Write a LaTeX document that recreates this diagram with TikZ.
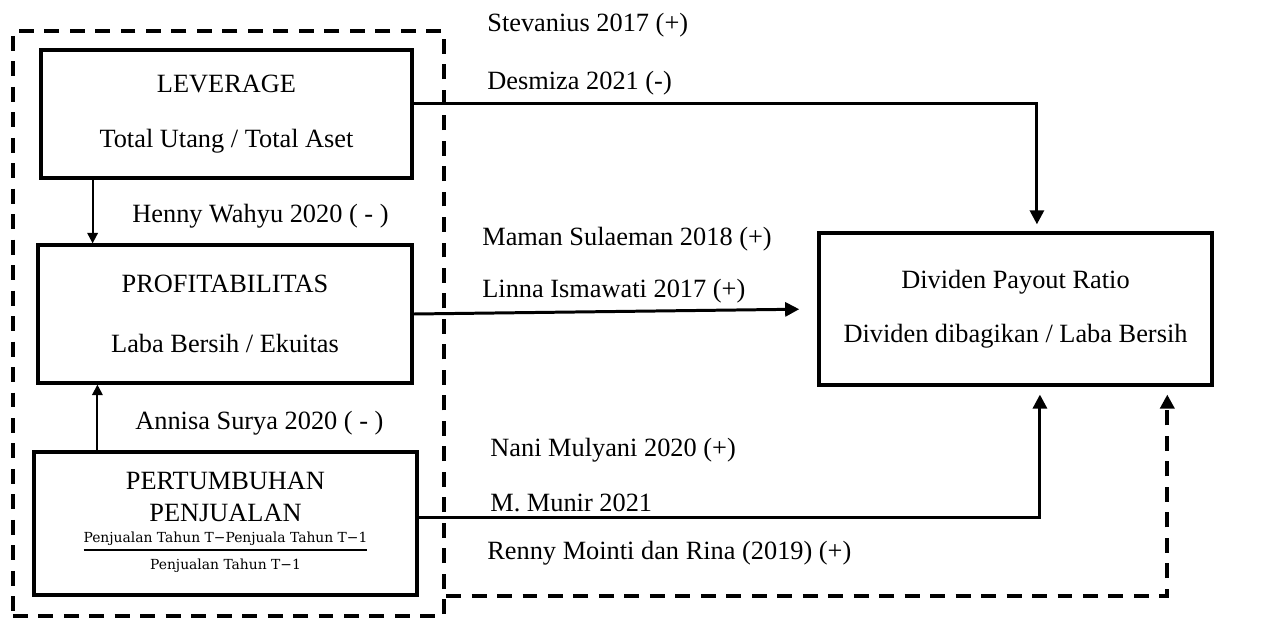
\documentclass[tikz,border=0pt]{standalone}
\usepackage{fontspec}
\setmainfont{Liberation Serif}
\newfontfamily\fracfont{DejaVu Serif}
\usetikzlibrary{arrows.meta, positioning}

\tikzset{
  box/.style={draw, rectangle, line width=2.2pt, align=center, inner sep=0pt},
  frame/.style={draw, rectangle, line width=2.2pt, dash pattern=on 8.5pt off 6pt},
  conn/.style={line width=1.7pt, -{Triangle[length=8pt,width=8pt]}},
  thinconn/.style={line width=1.1pt, -{Triangle[length=6pt,width=6pt]}},
  dconn/.style={line width=2.2pt, dash pattern=on 8.5pt off 6pt, -{Triangle[length=8pt,width=8pt]}},
  lbl/.style={anchor=base west, inner sep=0pt},
  every node/.style={font=\fontsize{15}{18}\selectfont}
}

\begin{document}
\begin{tikzpicture}[x=0.02cm, y=-0.02cm]
\useasboundingbox (0,0) rectangle (1282,621);

% Independent variables
\node[frame, minimum width=245.5pt, minimum height=332.8pt] (grp) at (228.5,323.5) {};
\node[box, minimum width=211.5pt, minimum height=72.6pt] (lev) at (226.5,114)
  {LEVERAGE\\[13.7pt]Total Utang / Total Aset};
\node[box, minimum width=213.2pt, minimum height=78.2pt] (prof) at (225,314)
  {PROFITABILITAS\\[16pt]Laba Bersih / Ekuitas};
\node[box, minimum width=218.3pt, minimum height=81.1pt] (pert) at (225.5,523.5)
  {PERTUMBUHAN\\PENJUALAN\\[-6pt]
   {\fracfont\fontsize{7.9}{9.5}\selectfont\setlength\arrayrulewidth{1.1pt}%
    \begin{tabular}[t]{@{}c@{}}Penjualan Tahun T−Penjuala Tahun T−1\\[1pt]\hline
    \rule{0pt}{10.5pt}Penjualan Tahun T−1\end{tabular}}};

% Dependent variable
\node[box, minimum width=224pt, minimum height=86.2pt] (div) at (1015.5,309)
  {Dividen Payout Ratio\\[13pt]Dividen dibagikan / Laba Bersih};

% Links
\draw[conn] ([yshift=5.7pt]lev.east) -| ([xshift=12.2pt]div.north) [shorten >=4pt];
\draw[thinconn] ([xshift=-76.2pt]lev.south) -- ([xshift=-76.2pt]lev.south |- prof.north);
\draw[conn, shorten >=10pt] (prof.east) -- (div.west);
\draw[thinconn] ([xshift=-72.9pt]pert.north) -- ([xshift=-72.9pt]pert.north |- prof.south);
\draw[conn] ([yshift=3.4pt]pert.east) -| ([xshift=13.9pt]div.south) [shorten >=4.5pt];
\draw[dconn] ([yshift=12.5pt]grp.south east) -| ([xshift=86.4pt]div.south) [shorten >=4.5pt];

% Studies
\node[lbl] (s1) at (487,32) {Stevanius 2017 (+)};
\node[lbl] (s2) at (487,90) {Desmiza 2021 (-)};
\node[lbl] (s3) at (132,223) {Henny Wahyu 2020 ( - )};
\node[lbl] (s4) at (482,246) {Maman Sulaeman 2018 (+)};
\node[lbl] (s5) at (482,298) {Linna Ismawati 2017 (+)};
\node[lbl] (s6) at (135,430) {Annisa Surya 2020 ( - )};
\node[lbl] (s7) at (490,457) {Nani Mulyani 2020 (+)};
\node[lbl] (s8) at (490,512) {M. Munir 2021};
\node[lbl] (s9) at (487,560) {Renny Mointi dan Rina (2019) (+)};
\end{tikzpicture}
\end{document}
